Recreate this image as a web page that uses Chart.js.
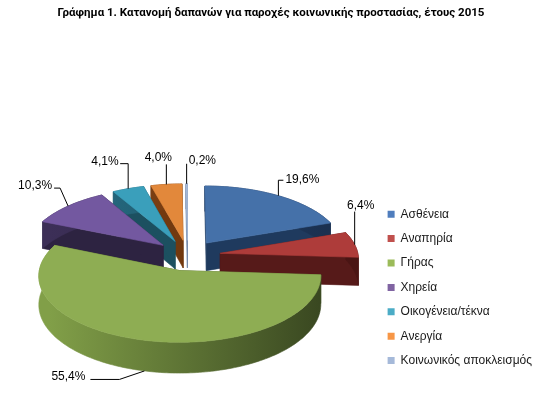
<!DOCTYPE html>
<html lang="el">
<head>
<meta charset="utf-8">
<title>Γράφημα 1</title>
<script src="https://cdn.jsdelivr.net/npm/chart.js@4/dist/chart.umd.min.js"></script>
<style>
  html, body { margin: 0; padding: 0; background: #fff; }
  #wrap { width: 542px; height: 404px; position: relative; }
</style>
</head>
<body>
<div id="wrap"><canvas id="pieChart"></canvas></div>
<script>
  // data
  const categories = ['Ασθένεια', 'Αναπηρία', 'Γήρας', 'Χηρεία', 'Οικογένεια/τέκνα', 'Ανεργία', 'Κοινωνικός αποκλεισμός'];
  const shares = [19.6, 6.4, 55.4, 10.3, 4.1, 4.0, 0.2];

  // colours: legend swatch, top face, radial faces, outer rim (light -> dark)
  const legendColors = ['#4F7DBD', '#C0504D', '#9BBB59', '#8064A2', '#4BACC6', '#F79646', '#A5B9D9'];
  const topColors = ['#4571A9', '#AE3C3A', '#8EAD53', '#7358A0', '#3A9FBB', '#E2883B', '#A7BAD8'];
  const sideColors = ['#1F3A5E', '#561A19', '#4B5F2A', '#2D2341', '#1C5060', '#72390F', '#6F86A8'];
  const sideLight = ['#2C4D7A', '#6E2220', '#819F48', '#3C2F57', '#287088', '#8A4716', '#8FA3C2'];
  const sideDark = ['#1A3050', '#4A1514', '#384620', '#261D37', '#174452', '#5E2F0C', '#5E7390'];

  // label placement: leader elbow (e), horizontal run (f), text offset (t)
  const labelLayout = [
    { e: [0, -15.5], f: 5, align: 'left', t: [2, -1] },
    { e: [0, -33], f: 0, align: 'center', t: [6, -6] },
    { e: [-25, 8.5], f: -29, align: 'right', t: [-5, -3] },
    { e: [-8, -18], f: -6, align: 'right', t: [-2, -2] },
    { e: [0, -25], f: -8, align: 'right', t: [-1.5, -2] },
    { e: [0, -20], f: 0, align: 'center', t: [-8, -7] },
    { e: [0, -20], f: 0, align: 'left', t: [2, -3] }
  ];

  const FONT = "'Liberation Sans', Arial, sans-serif";

  function fmt(v) {
    return v.toFixed(1).replace('.', ',') + '%';
  }

  // draws the pie as a tilted, exploded 3D pie using the arcs Chart.js laid out
  const pie3d = {
    id: 'pie3d',
    beforeDatasetsDraw(chart, args, opts) {
      const ctx = chart.ctx;
      const arcs = chart.getDatasetMeta(0).data;
      if (!arcs.length) return false;
      const g = {
        cx: arcs[0].x, cy: arcs[0].y, R: arcs[0].outerRadius,
        k: opts.tilt, p: opts.perspective, depth: opts.depth
      };
      const proj = (u, v, h) => {
        const s = 1 + g.p * v / g.R;
        return [g.cx + u * s, g.cy + (v * g.k + h * g.depth) * s];
      };
      const slices = arcs.map((a, i) => {
        const m = (a.startAngle + a.endAngle) / 2;
        return {
          i, a0: a.startAngle, a1: a.endAngle, m,
          ox: opts.explode * Math.cos(m), oy: opts.explode * Math.sin(m)
        };
      });
      const rim = (sl, t, h) => proj(sl.ox + g.R * Math.cos(t), sl.oy + g.R * Math.sin(t), h);
      const poly = (pts, fill) => {
        ctx.beginPath();
        pts.forEach((p, j) => j ? ctx.lineTo(p[0], p[1]) : ctx.moveTo(p[0], p[1]));
        ctx.closePath();
        ctx.fillStyle = fill;
        ctx.strokeStyle = fill;
        ctx.lineWidth = 0.6;
        ctx.fill();
        ctx.stroke();
      };

      ctx.save();
      slices.slice().sort((p, q) => p.oy - q.oy).forEach(sl => {
        const n = Math.max(2, Math.ceil((sl.a1 - sl.a0) / 0.02));
        const c0 = proj(sl.ox, sl.oy, 0);
        const c1 = proj(sl.ox, sl.oy, 1);
        [sl.a0, sl.a1].forEach(t => poly([c0, rim(sl, t, 0), rim(sl, t, 1), c1], sideColors[sl.i]));
        const topPts = [];
        const botPts = [];
        for (let j = 0; j <= n; j++) {
          const t = sl.a0 + (sl.a1 - sl.a0) * j / n;
          topPts.push(rim(sl, t, 0));
          botPts.push(rim(sl, t, 1));
        }
        const grad = ctx.createLinearGradient(g.cx - g.R, 0, g.cx + g.R, 0);
        grad.addColorStop(0, sideLight[sl.i]);
        grad.addColorStop(1, sideDark[sl.i]);
        poly(topPts.concat(botPts.reverse()), grad);
        poly([c0].concat(topPts), topColors[sl.i]);
      });

      // data labels with leader lines
      ctx.font = '12px ' + FONT;
      ctx.fillStyle = '#000';
      ctx.strokeStyle = '#000';
      ctx.lineWidth = 1;
      ctx.textBaseline = 'middle';
      slices.forEach(sl => {
        const L = labelLayout[sl.i];
        const front = Math.sin(sl.m) > 0.5;
        const A = rim(sl, sl.m, front ? 1 : 0);
        const E = [A[0] + L.e[0], A[1] + L.e[1]];
        const F = [E[0] + L.f, E[1]];
        ctx.beginPath();
        ctx.moveTo(A[0], A[1]);
        ctx.lineTo(E[0], E[1]);
        ctx.lineTo(F[0], F[1]);
        ctx.stroke();
        ctx.textAlign = L.align;
        ctx.fillText(fmt(shares[sl.i]), F[0] + L.t[0], F[1] + L.t[1]);
      });
      ctx.restore();
      return false;
    }
  };

  const data = {
    labels: categories,
    datasets: [{
      data: shares,
      backgroundColor: legendColors,
      borderWidth: 0,
      radius: 138
    }]
  };

  const config = {
    type: 'pie',
    data: data,
    options: {
      responsive: true,
      maintainAspectRatio: false,
      animation: false,
      events: [],
      layout: { padding: { left: 0, right: 0, top: 0, bottom: 25 } },
      plugins: {
        title: {
          display: true,
          text: 'Γράφημα 1. Κατανομή δαπανών για παροχές κοινωνικής προστασίας, έτους 2015',
          color: '#000',
          font: { family: "Roboto, 'Liberation Sans', sans-serif", size: 11.5, weight: 'bold' },
          padding: { top: 6, bottom: 112 }
        },
        legend: {
          position: 'right',
          align: 'end',
          labels: {
            boxWidth: 7,
            boxHeight: 7,
            padding: 12.4,
            color: '#1a1a1a',
            font: { family: FONT, size: 12 }
          }
        },
        tooltip: { enabled: false },
        pie3d: { tilt: 0.465, perspective: 0.08, depth: 28, explode: 33 }
      }
    },
    plugins: [pie3d]
  };

  const myChart = new Chart(document.getElementById('pieChart'), config);
</script>
</body>
</html>
